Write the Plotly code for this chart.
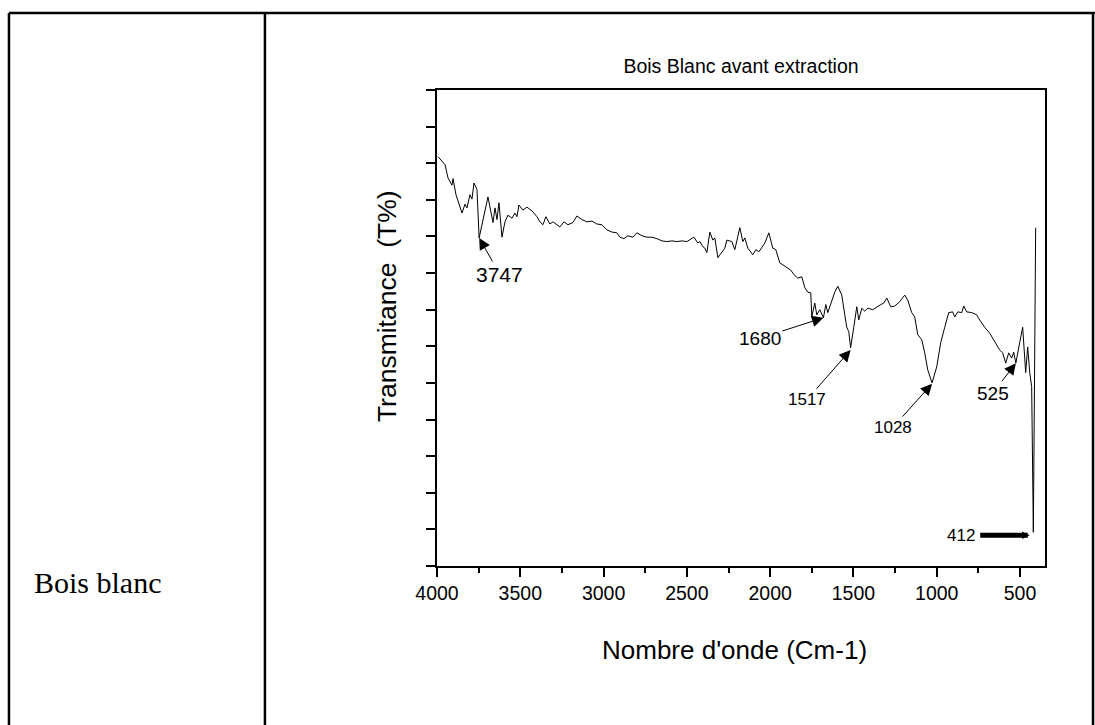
import plotly.graph_objects as go

# Spectrum: wavenumber (cm-1) and transmittance (arbitrary %T units)
wavenumber = [3994, 3952, 3934, 3910, 3904, 3886, 3850, 3832, 3820, 3802, 3790, 3778, 3760, 3747,
              3694, 3664, 3652, 3640, 3628, 3610, 3592, 3574, 3550, 3532, 3520, 3508, 3484, 3460,
              3430, 3400, 3382, 3364, 3346, 3322, 3304, 3280, 3262, 3238, 3214, 3184, 3160, 3130,
              3100, 3070, 3040, 3010, 2980, 2950, 2920, 2902, 2878, 2854, 2824, 2800, 2770, 2740,
              2710, 2680, 2650, 2620, 2590, 2560, 2530, 2500, 2470, 2458, 2434,
              2422, 2404, 2392, 2380, 2362, 2344, 2332, 2314, 2290, 2272, 2260, 2230, 2212, 2200,
              2182, 2164, 2152, 2134, 2104, 2086, 2068, 2032, 2008, 1984, 1966, 1942, 1924, 1900,
              1876, 1858, 1834, 1810, 1792, 1774, 1756, 1750, 1732, 1720, 1702, 1680, 1666, 1654,
              1630, 1612, 1594, 1570, 1552, 1540, 1528, 1517, 1498, 1480, 1468, 1450, 1432, 1414,
              1384, 1360, 1336, 1318, 1300, 1276, 1252, 1222, 1192, 1174, 1150, 1132, 1114, 1090,
              1072, 1054, 1028, 1000, 976, 952, 928, 904, 892, 874, 850, 838, 820, 790, 760, 742,
              712, 682, 652, 622, 604, 586, 568, 550, 538, 525, 502, 484, 466, 454, 442, 430, 420,
              406]
transmittance = [55.9, 54.8, 53.0, 52.0, 52.9, 50.7, 48.2, 49.4, 48.9, 50.7, 50.1, 52.3, 51.4, 44.8,
                 50.4, 46.9, 48.9, 47.3, 49.6, 44.9, 47.0, 47.9, 47.5, 48.2, 47.7, 49.3, 48.6, 49.0,
                 48.5, 47.7, 47.0, 46.6, 47.7, 46.7, 47.0, 46.6, 46.3, 47.0, 46.6, 46.9, 47.8, 47.3,
                 47.0, 47.1, 46.7, 46.6, 45.9, 45.6, 45.5, 44.9, 44.7, 45.1, 44.9, 45.5, 45.1, 44.9,
                 44.9, 44.7, 44.4, 44.3, 44.4, 44.3, 44.4, 44.3, 44.7, 44.9, 44.1,
                 44.3, 43.6, 43.4, 42.8, 45.6, 44.5, 44.8, 42.1, 42.9, 43.4, 44.5, 44.3, 43.2, 44.5,
                 46.2, 44.3, 44.8, 43.4, 42.5, 43.2, 42.9, 44.1, 45.5, 43.4, 43.2, 41.4, 41.1, 40.8,
                 40.4, 39.8, 39.3, 39.5, 38.0, 37.4, 37.3, 34.0, 35.9, 34.3, 35.0, 33.9, 35.7, 34.6,
                 36.1, 37.4, 38.2, 37.0, 34.3, 32.6, 32.0, 29.8, 32.6, 35.4, 33.6, 35.2, 34.8, 35.2,
                 35.0, 35.4, 35.7, 35.9, 36.6, 35.4, 35.5, 36.1, 37.0, 36.3, 34.6, 34.0, 31.6, 30.9,
                 29.1, 26.8, 25.0, 27.2, 30.5, 32.6, 34.6, 34.7, 34.0, 34.7, 34.6, 35.5, 34.7, 34.6, 34.3, 33.6,
                 32.6, 31.8, 30.6, 29.5, 29.1, 27.7, 29.1, 28.4, 29.2, 27.7, 30.5, 32.6, 26.4, 29.9, 26.5, 24.5, 4.6,
                 46.2]

# Peak annotations: label, arrow tip (wn, T), label position (wn, T), font size
peak_labels = ["3747", "1680", "1517", "1028", "525"]
peak_x = [3747, 1680, 1517, 1028, 525]
peak_y = [44.8, 33.9, 29.5, 24.9, 27.7]
label_x = [3622, 2062, 1780, 1264, 664]
label_y = [39.8, 31.1, 22.7, 18.9, 23.6]
label_size = [21, 19, 17, 17, 19]

low_label = "412"
low_tip = (442, 4.2)
low_text = (856, 4.2)

x_ticks = [4000, 3500, 3000, 2500, 2000, 1500, 1000, 500]

FONT = "Liberation Sans, Arial, sans-serif"

fig = go.Figure()
fig.add_trace(go.Scatter(x=wavenumber, y=transmittance, mode="lines",
                         line=dict(color="black", width=1), showlegend=False,
                         hoverinfo="skip"))

annotations = []
for lab, px, py, lx, ly, fs in zip(peak_labels, peak_x, peak_y, label_x, label_y, label_size):
    annotations.append(dict(x=px, y=py, xref="x", yref="y", ax=lx, ay=ly, axref="x", ayref="y",
                            text=lab, showarrow=True, arrowhead=2, arrowsize=2.3, arrowwidth=1,
                            arrowcolor="black", standoff=0, startstandoff=0,
                            font=dict(family=FONT, size=fs, color="black")))
annotations.append(dict(x=low_tip[0], y=low_tip[1], xref="x", yref="y",
                        ax=low_text[0], ay=low_text[1], axref="x", ayref="y",
                        text=low_label, showarrow=True, arrowhead=2, arrowsize=0.3, arrowwidth=5,
                        arrowcolor="black", standoff=0, startstandoff=4,
                        font=dict(family=FONT, size=17, color="black")))

# axis titles and table text
annotations.append(dict(x=-0.083, y=0.545, xref="paper", yref="paper", text="Transmitance\u00a0 (T%)",
                        textangle=-90, showarrow=False, xanchor="center", yanchor="middle",
                        font=dict(family=FONT, size=26.5, color="black")))
annotations.append(dict(x=0.49, y=-0.176, xref="paper", yref="paper", text="Nombre d'onde (Cm-1)",
                        showarrow=False, xanchor="center", yanchor="middle",
                        font=dict(family=FONT, size=26, color="black")))
annotations.append(dict(x=-0.666, y=-0.034, xref="paper", yref="paper", text="Bois blanc",
                        showarrow=False, xanchor="left", yanchor="middle",
                        font=dict(family="Liberation Serif, Times New Roman, serif", size=30, color="black")))

shapes = [
    dict(type="line", xref="paper", yref="paper", x0=-0.704, x1=-0.704, y0=1.162, y1=-0.4,
         line=dict(color="black", width=2.5)),
    dict(type="line", xref="paper", yref="paper", x0=-0.704, x1=1.1, y0=1.162, y1=1.162,
         line=dict(color="black", width=2.5)),
    dict(type="line", xref="paper", yref="paper", x0=-0.283, x1=-0.283, y0=1.162, y1=-0.4,
         line=dict(color="black", width=2.5)),
    dict(type="line", xref="paper", yref="paper", x0=1.079, x1=1.079, y0=1.162, y1=-0.4,
         line=dict(color="black", width=2.5)),
]

fig.update_layout(
    width=1095, height=725,
    margin=dict(l=437, r=50, t=90, b=159),
    paper_bgcolor="white", plot_bgcolor="white",
    title=dict(text="Bois Blanc avant extraction", x=0.5, xref="paper", xanchor="center",
               y=1 - 66 / 725, yref="container", yanchor="middle",
               font=dict(family=FONT, size=19.5, color="black")),
    annotations=annotations,
    shapes=shapes,
    xaxis=dict(range=[4000, 350], tickvals=x_ticks, ticktext=[str(v) for v in x_ticks],
               ticks="outside", ticklen=9, tickwidth=1.5, tickcolor="black",
               minor=dict(dtick=250, tick0=0, ticks="outside", ticklen=5, tickwidth=1.5, tickcolor="black"),
               showline=True, linecolor="black", linewidth=1.5, mirror=True,
               showgrid=False, zeroline=False,
               tickfont=dict(family=FONT, size=19.5, color="black")),
    yaxis=dict(range=[0, 65], dtick=5, tick0=0, ticks="outside", ticklen=9, tickwidth=1.5,
               tickcolor="black", showticklabels=False,
               showline=True, linecolor="black", linewidth=1.5, mirror=True,
               showgrid=False, zeroline=False),
)

fig.write_html("out.html")
